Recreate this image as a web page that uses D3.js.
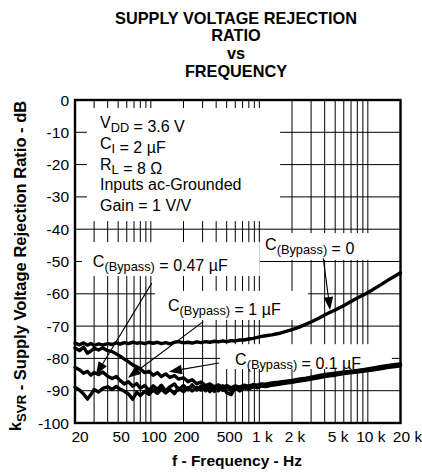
<!DOCTYPE html>
<html><head><meta charset="utf-8">
<script src="https://cdn.jsdelivr.net/npm/d3@7"></script>
<style>
body{margin:0;background:#fff}
svg{display:block}
text{font-family:"Liberation Sans",Arial,Helvetica,sans-serif;fill:#000}
</style>
</head><body>
<svg id="chart" width="422" height="474"></svg>
<script>
// ---- data ----
const freqs = [20,22,24,26,28,30,33,36,40,44,
  48,52,57,62,68,74,80,88,96,105,
  115,125,137,150,165,180,200,220,240,265,
  290,320,350,385,420,460,500,550,600,660,
  720,800,880,960,1050,1150,1300,1500,1700,2000,
  2300,2700,3100,3600,4200,5000,5800,6800,8000,9300,
  11000,13000,15500,18000,20000];
const svrBypass0 = [-75.3,-75.8,-75.2,-75.9,-75.4,-76.0,-75.5,-75.9,-75.4,-75.7,
  -75.2,-75.6,-75.1,-75.4,-75.0,-75.3,-75.1,-75.4,-75.0,-75.3,
  -75.0,-75.4,-75.1,-75.5,-75.0,-74.8,-75.2,-75.0,-75.3,-74.9,
  -75.1,-74.8,-75.0,-74.7,-74.9,-74.6,-74.8,-74.5,-74.6,-74.3,
  -74.3,-74.0,-73.8,-73.5,-73.2,-73.0,-72.7,-72.3,-71.8,-71.1,
  -70.4,-69.4,-68.5,-67.4,-66.2,-65.0,-63.9,-62.6,-61.3,-60.2,
  -58.8,-57.3,-55.7,-54.4,-53.5];
const svrBypass01 = [-76.8,-77.6,-76.5,-78.4,-77.7,-76.9,-77.4,-76.8,-77.6,-77.9,
  -78.6,-79.3,-80.2,-81.0,-82.0,-82.6,-83.3,-84.4,-84.0,-85.2,
  -84.4,-85.6,-84.8,-85.9,-85.3,-86.4,-86.0,-87.2,-86.6,-87.8,
  -87.3,-88.4,-87.9,-88.8,-88.2,-89.0,-88.4,-89.1,-88.5,-88.9,
  -88.3,-88.6,-88.1,-88.3,-87.9,-88.0,-87.6,-87.4,-87.1,-86.8,
  -86.4,-86.1,-85.7,-85.3,-84.9,-84.6,-84.3,-84.0,-83.7,-83.4,
  -83.0,-82.6,-82.2,-81.9,-81.7];
const svrBypass047 = [-82.8,-83.5,-84.6,-84.0,-85.2,-84.4,-85.0,-84.2,-85.5,-86.2,
  -85.6,-86.8,-87.9,-87.2,-88.6,-87.8,-89.2,-88.4,-89.9,-88.5,
  -89.6,-88.3,-90.1,-88.8,-87.9,-89.8,-88.4,-89.7,-88.2,-89.8,
  -88.5,-90.0,-88.7,-90.2,-88.6,-89.9,-88.7,-90.0,-88.9,-89.5,
  -88.8,-89.2,-88.6,-88.9,-88.4,-88.6,-88.1,-87.8,-87.5,-87.2,
  -86.9,-86.5,-86.1,-85.7,-85.3,-85.0,-84.6,-84.3,-84.0,-83.7,
  -83.4,-83.0,-82.6,-82.3,-82.1];
const svrBypass1 = [-88.9,-89.8,-91.0,-92.6,-91.2,-89.6,-90.4,-89.3,-88.8,-89.6,
  -88.7,-89.5,-90.2,-91.0,-92.6,-90.5,-91.5,-90.2,-91.1,-89.8,
  -90.8,-89.5,-90.7,-89.6,-90.9,-89.2,-90.3,-89.0,-90.1,-88.9,
  -89.8,-88.6,-90.3,-88.7,-90.0,-88.5,-90.6,-91.2,-89.0,-90.1,
  -89.1,-89.5,-88.8,-89.1,-88.5,-88.7,-88.3,-88.0,-87.7,-87.4,
  -87.0,-86.7,-86.3,-85.9,-85.5,-85.2,-84.8,-84.5,-84.2,-83.9,
  -83.6,-83.2,-82.8,-82.5,-82.3];

const yTickValues = [0,-10,-20,-30,-40,-50,-60,-70,-80,-90,-100];
const xTickValues = [20,50,100,200,500,1000,2000,5000,10000,20000];
const xTickLabels = ["20","50","100","200","500","1 k","2 k","5 k","10 k","20 k"];
const gridFreqs = [30,40,50,60,70,80,90,100,200,300,400,500,600,700,800,900,1000,2000,3000,4000,5000,6000,7000,8000,9000,10000];
const gridDb = [-10,-20,-30,-40,-50,-60,-70,-80,-90];

const titleLines = ["SUPPLY VOLTAGE REJECTION","RATIO","vs","FREQUENCY"];
const infoLines = [
  [["V"],["DD",1],[" = 3.6 V"]],
  [["C"],["I",1],[" = 2 µF"]],
  [["R"],["L",1],[" = 8 Ω"]],
  [["Inputs ac-Grounded"]],
  [["Gain = 1 V/V"]]
];
// annotation labels: text value, anchor point (freq, dB)
const annoValues = ["0.47 µF","0","1 µF","0.1 µF"];
const annoAt = [[29.2,-51.7],[1130,-46.4],[144,-65.2],[598,-82.0]];
// arrows: from (freq,dB) to tip (freq,dB)
const arrowFrom = [[102,-56.7],[304,-68.6],[424,-81.4],[3880,-49.0]];
const arrowTo = [[31.2,-85.1],[61.6,-86.0],[147,-84.1],[4490,-65.0]];
// white label backgrounds (freq range, dB range)
const maskF = [[25.8,1554],[23.2,1010],[1060,20000],[109,2812],[434,16660]];
const maskDb = [[-2.5,-37.5],[-44,-54.5],[-41.2,-49.5],[-59.1,-68.1],[-75.6,-83.3]];

// ---- drawing ----
const svg = d3.select("#chart");
const x = d3.scaleLog().domain([20,20000]).range([75,400.5]);
const y = d3.scaleLinear().domain([-100,0]).range([423,100]);

function richText(sel, parts, size, sub){
  parts.forEach(p=>{
    const t = sel.append("tspan").text(p[0]);
    if(p[1]){ t.attr("font-size", size*sub).attr("dy", size*0.28); }
    else { t.attr("font-size", size); }
    if(p[1]) sel.append("tspan").attr("dy", -size*0.28).text("");
  });
  return sel;
}

// title
svg.append("g").selectAll("text").data(titleLines).join("text")
  .attr("x",236).attr("y",(d,i)=>23.5+i*17.8)
  .attr("text-anchor","middle").attr("font-size",16.3).attr("font-weight","bold")
  .text(d=>d);

// grid
const grid = svg.append("g").attr("stroke","#000").attr("stroke-width",1);
grid.selectAll("line.v").data(gridFreqs).join("line").attr("class","v")
  .attr("x1",d=>x(d)).attr("x2",d=>x(d)).attr("y1",y(0)).attr("y2",y(-100));
grid.selectAll("line.h").data(gridDb).join("line").attr("class","h")
  .attr("x1",x(20)).attr("x2",x(20000)).attr("y1",d=>y(d)).attr("y2",d=>y(d));

// masks
svg.append("g").selectAll("rect").data(maskF).join("rect")
  .attr("x",d=>x(d[0])).attr("width",d=>x(d[1])-x(d[0]))
  .attr("y",(d,i)=>y(maskDb[i][0])).attr("height",(d,i)=>y(maskDb[i][1])-y(maskDb[i][0]))
  .attr("fill","#fff");

// curves
const line = d3.line().x((d,i)=>x(freqs[i])).y(d=>y(d));
svg.append("g").selectAll("path").data([svrBypass0,svrBypass01,svrBypass047,svrBypass1]).join("path")
  .attr("d",d=>line(d)).attr("fill","none").attr("stroke","#000")
  .attr("stroke-width",3.4).attr("stroke-linejoin","round").attr("stroke-linecap","round");

// arrows
const ag = svg.append("g");
arrowFrom.forEach((f,i)=>{
  const x1=x(f[0]), y1=y(f[1]), x2=x(arrowTo[i][0]), y2=y(arrowTo[i][1]);
  const ang=Math.atan2(y2-y1,x2-x1), L=13, W=4.8;
  const bx=x2-L*Math.cos(ang), by=y2-L*Math.sin(ang);
  ag.append("line").attr("x1",x1).attr("y1",y1).attr("x2",bx).attr("y2",by)
    .attr("stroke","#000").attr("stroke-width",1.1);
  ag.append("path").attr("d",`M${x2},${y2}L${bx-W*Math.sin(ang)},${by+W*Math.cos(ang)}L${bx+W*Math.sin(ang)},${by-W*Math.cos(ang)}Z`)
    .attr("fill","#000");
});

// annotation labels
annoValues.forEach((v,i)=>{
  const t = svg.append("text").attr("x",x(annoAt[i][0])).attr("y",y(annoAt[i][1]));
  richText(t,[["C"],["(Bypass)",1],[" = "+v]],16,0.8);
});

// info block
infoLines.forEach((l,i)=>{
  const t = svg.append("text").attr("x",100).attr("y",128+i*20.8);
  richText(t,l,16,0.8);
});

// frame
svg.append("rect").attr("x",x(20)).attr("y",y(0)).attr("width",x(20000)-x(20)).attr("height",y(-100)-y(0))
  .attr("fill","none").attr("stroke","#000").attr("stroke-width",2.4);

// y tick labels
svg.append("g").selectAll("text").data(yTickValues).join("text")
  .attr("x",69).attr("y",d=>y(d)).attr("dy","0.36em").attr("text-anchor","end")
  .attr("font-size",15.5).text(d=>d);

// x tick labels
svg.append("g").selectAll("text").data(xTickValues).join("text")
  .attr("x",(d,i)=>x(d)+(i===0?5:i===xTickValues.length-1?7:3)).attr("y",442)
  .attr("text-anchor","middle").attr("font-size",15.5).text((d,i)=>xTickLabels[i]);

// axis titles
svg.append("text").attr("x",237).attr("y",466).attr("text-anchor","middle")
  .attr("font-size",15.5).attr("font-weight","bold").text("f - Frequency - Hz");
const yt = svg.append("text").attr("transform","translate(21,266) rotate(-90)")
  .attr("text-anchor","middle").attr("font-weight","bold");
richText(yt,[["k"],["SVR",1],[" - Supply Voltage Rejection Ratio - dB"]],16.5,0.8);
</script>
</body></html>
